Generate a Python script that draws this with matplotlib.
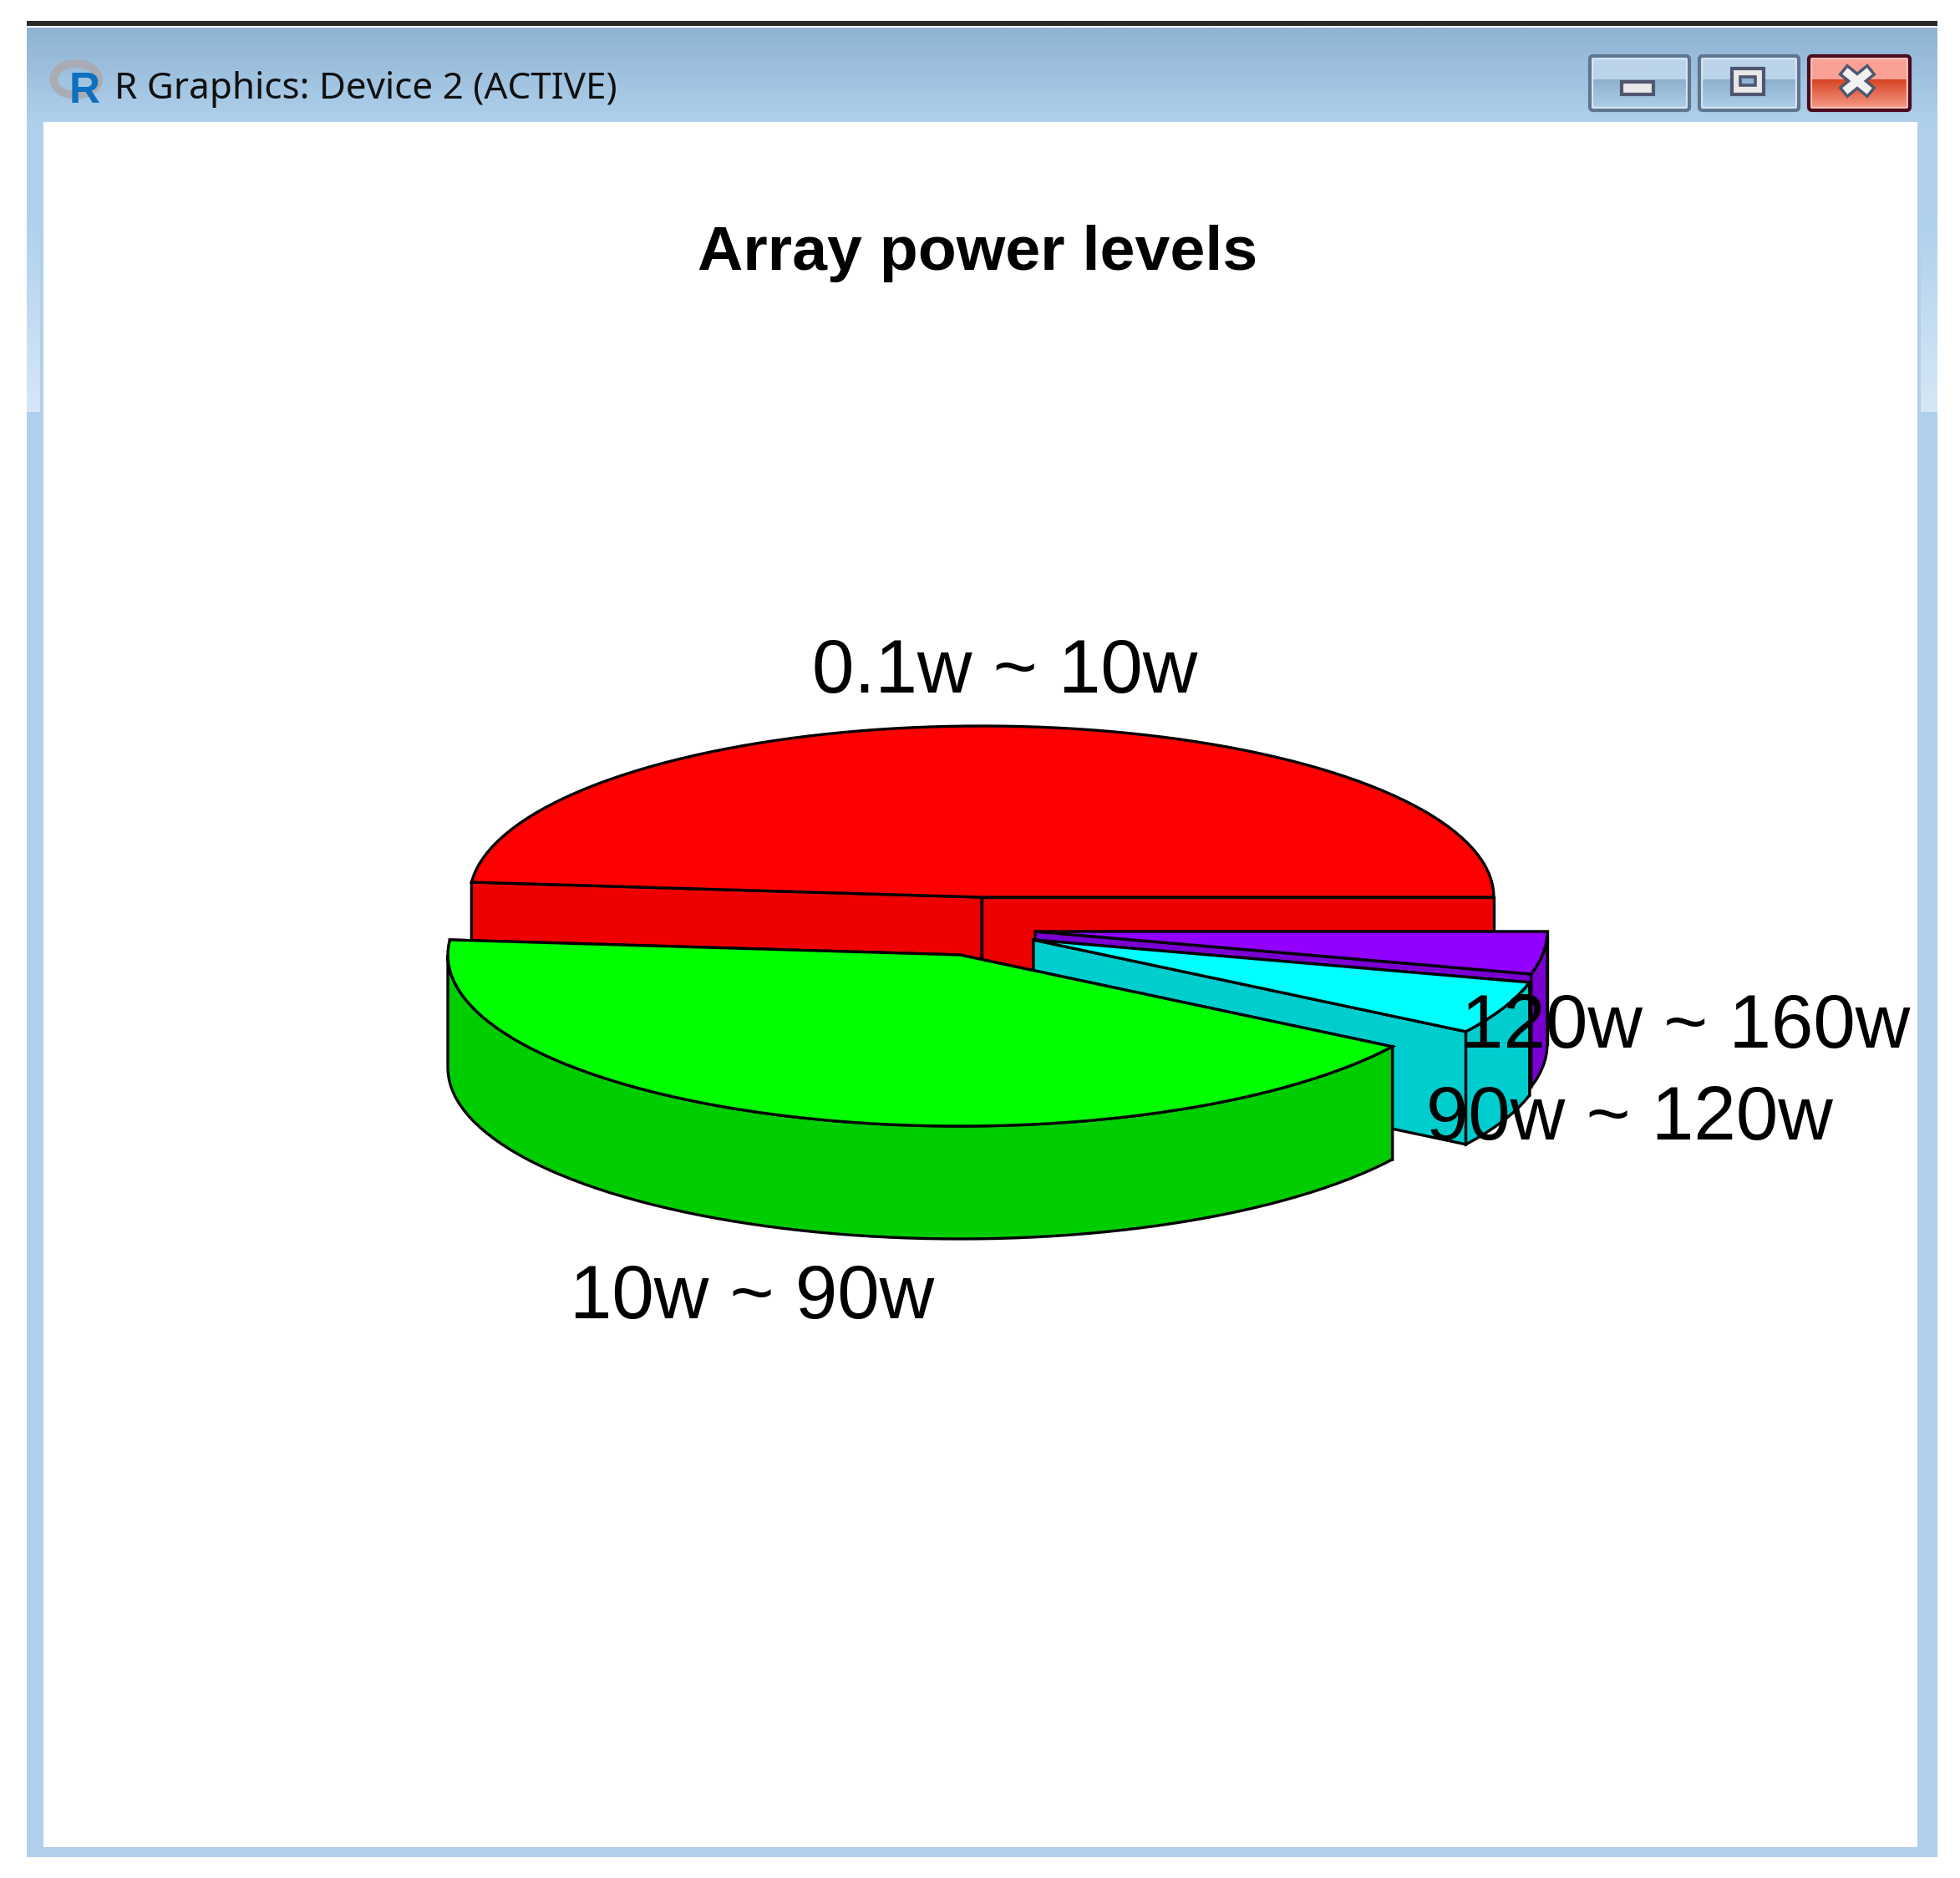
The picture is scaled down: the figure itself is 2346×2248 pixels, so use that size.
import numpy as np
import matplotlib
matplotlib.use('Agg')
import matplotlib.pyplot as plt
from matplotlib.patches import Polygon, Rectangle, FancyBboxPatch, Ellipse

labels = ['0.1w ~ 10w', '10w ~ 90w', '90w ~ 120w', '120w ~ 160w']
values = [48.6, 42.4, 5.0, 4.0]
top_cols = ['#ff0000', '#00ff00', '#00ffff', '#9200ff']
side_cols = ['#ee0000', '#00cd00', '#00cdcd', '#7a00d2']

# pie centre of each slice on the page, exploded by hand, in px
centers = [(1175, 1074), (1149, 1143), (1237, 1125), (1239, 1115)]
radius_x, radius_y, depth = 613, 205, 135

W, H = 2346, 2248
fig = plt.figure(figsize=(W / 100, H / 100), dpi=100)
ax = fig.add_axes([0, 0, 1, 1])
ax.set_xlim(0, W)
ax.set_ylim(H, 0)
ax.axis('off')


def gradient(x0, y0, x1, y1, c0, c1, z=1):
    c0 = np.array(matplotlib.colors.to_rgb(c0))
    c1 = np.array(matplotlib.colors.to_rgb(c1))
    t = np.linspace(0, 1, 64)[:, None, None]
    img = c0[None, None, :] * (1 - t) + c1[None, None, :] * t
    ax.imshow(img, extent=(x0, x1, y1, y0), aspect='auto', zorder=z)


# window frame
ax.add_patch(Rectangle((32, 33), 2287, 2190, fc='#afcfec', ec='none', zorder=0))
gradient(32, 33, 2319, 146, '#8eb3d2', '#afd0ec')
gradient(32, 260, 48, 493, '#afd0ec', '#d6e7f6')
gradient(2299, 260, 2319, 493, '#afd0ec', '#d6e7f6')
ax.add_patch(Rectangle((52, 146), 2243, 2065, fc='white', ec='none', zorder=2))
ax.add_patch(Rectangle((32, 25), 2287, 6, fc='#2a2a2a', ec='none', zorder=2))

# title bar buttons
for x0, x1, c0, c1, c2, ec, inner in [(1903, 2022, '#bcd4ea', '#8db0cd', '#b0d0ea', '#5f7690', '#dbe8f3'),
                                      (2034, 2153, '#bcd4ea', '#8db0cd', '#b0d0ea', '#5f7690', '#dbe8f3'),
                                      (2165, 2286, '#f9a194', '#d84423', '#f79f90', '#4c0a1e', '#fbc4ba')]:
    gradient(x0, 67, x1, 95, c0, c0, z=3)
    gradient(x0, 95, x1, 132, c1, c2, z=3)
    ax.add_patch(Rectangle((x0 + 3, 70), x1 - x0 - 6, 59, fc='none', ec=inner, lw=1.6, zorder=4))
    ax.add_patch(FancyBboxPatch((x0, 67), x1 - x0, 65, boxstyle='round,pad=0,rounding_size=4',
                                fc='none', ec=ec, lw=3, zorder=4))
ax.add_patch(Rectangle((1941, 98), 38, 15, fc='#e8e8e8', ec='#4f566e', lw=3, zorder=5))
ax.add_patch(Rectangle((2073, 82), 38, 31, fc='#e8e8e8', ec='#4f566e', lw=3, zorder=5))
ax.add_patch(Rectangle((2083, 92), 18, 10, fc='#8db4d6', ec='#4f566e', lw=2.6, zorder=6))
ax.plot([2212, 2234], [88, 106], color='#4f566e', lw=12, zorder=5, solid_capstyle='projecting')
ax.plot([2212, 2234], [106, 88], color='#4f566e', lw=12, zorder=5, solid_capstyle='projecting')
ax.plot([2212, 2234], [88, 106], color='#f2f2f2', lw=7, zorder=6, solid_capstyle='projecting')
ax.plot([2212, 2234], [106, 88], color='#f2f2f2', lw=7, zorder=6, solid_capstyle='projecting')

# R logo and window caption
ax.add_patch(Ellipse((91, 95), 54, 38, fc='none', ec='#a9adb3', lw=7, zorder=3))
ax.text(101, 123, 'R', color='#0f6fc0', fontsize=37, fontweight='bold', family='Liberation Sans',
        ha='center', va='baseline', zorder=4)
ax.text(137, 118, 'R Graphics: Device 2 (ACTIVE)', color='#111111', fontsize=31.7, family='Noto Sans',
        ha='left', va='baseline', zorder=4)


def arc(c, t0, t1, dy=0):
    t = np.radians(np.linspace(t0, t1, max(int(abs(t1 - t0) / 2), 2)))
    return np.c_[c[0] + radius_x * np.cos(t), c[1] - radius_y * np.sin(t) + dy]


def draw_slice(c, t0, t1, top, side, z):
    lw = 2.4
    # the two radial walls
    for t in (t1, t0):
        p = arc(c, t, t + 1e-3)[0]
        wall = [c, p, (p[0], p[1] + depth), (c[0], c[1] + depth)]
        ax.add_patch(Polygon(wall, fc=side, ec='black', lw=lw, zorder=z))
    # outer wall, only the part that faces the viewer
    a0, a1 = max(t0, 180), t1
    if a1 > a0:
        rim = np.r_[arc(c, a0, a1), arc(c, a1, a0, depth)]
        ax.add_patch(Polygon(rim, fc=side, ec='black', lw=lw, zorder=z))
    face = np.r_[[c], arc(c, t0, t1)]
    ax.add_patch(Polygon(face, fc=top, ec='black', lw=lw, zorder=z))


shares = np.array(values) / sum(values) * 360
ends = np.cumsum(shares)
starts = ends - shares
# back to front: red, purple, cyan, green
for i, z in zip([0, 3, 2, 1], [10, 11, 12, 13]):
    draw_slice(centers[i], starts[i], ends[i], top_cols[i], side_cols[i], z)

ax.text(1170, 323, 'Array power levels', fontsize=54.2, fontweight='bold', family='Liberation Sans',
        ha='center', va='baseline', color='black', zorder=20)

label_x = [1203, 900, 1950, 2018]
label_y = [829, 1578, 1364, 1254]
for s, x, y in zip(labels, label_x, label_y):
    ax.text(x, y, s, fontsize=65.3, family='Liberation Sans', ha='center', va='baseline',
            color='black', zorder=20)

fig.savefig('out.png', dpi=100)
